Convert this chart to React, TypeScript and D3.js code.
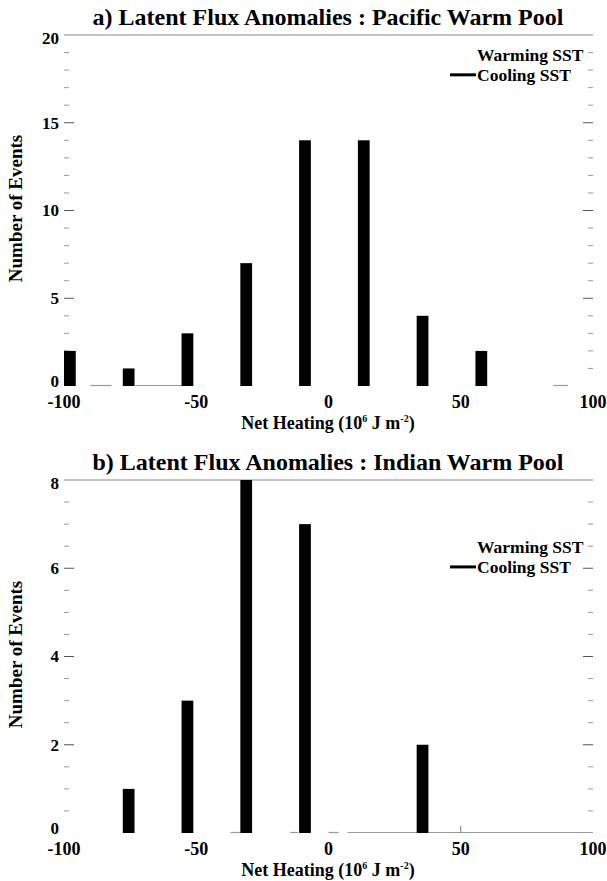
import React from "react";
import * as d3 from "d3";

// ---- data ----
const binEdgesStart = -100;
const binCount = 9;
const xTicks = [-100, -50, 0, 50, 100];

const pacificCooling = [2, 1, 3, 7, 14, 14, 4, 2, 0];
const indianCooling = [0, 1, 3, 8, 7, 0, 2, 0, 0];

const pacificYTicks = [0, 5, 10, 15, 20];
const indianYTicks = [0, 2, 4, 6, 8];

// faint baseline traces (data units) seen in the reference
const pacificTraces: [number, number][] = [[-90, -82], [-73, -55.6], [85, 90.5]];
const indianTraces: [number, number][] = [[-37, -33.5], [-14.5, -11.5], [0, 3.8], [7.2, 33.3], [37.8, 100]];

const legendLabels = ["Warming SST", "Cooling SST"];

const FONT = "'Liberation Serif', 'Times New Roman', serif";

type PanelProps = {
  title: string;
  values: number[];
  yMax: number;
  yTicks: number[];
  minorStep: number;
  traces: [number, number][];
  top: number;
  bottom: number;
  axisTick50?: boolean;
  legendRows: [number, number];
};

const x = d3.scaleLinear().domain([-100, 100]).range([64, 593]);
const binW = 200 / binCount;

function Panel(p: PanelProps) {
  const y = d3.scaleLinear().domain([0, p.yMax]).range([p.bottom, p.top]);
  const minor = d3.range(0, p.yMax + 1e-9, p.minorStep);
  const left = x(-100);
  const right = x(100);
  return (
    <g>
      <text x={328} y={p.top - 10} textAnchor="middle" fontFamily={FONT} fontWeight="bold" fontSize={24}>
        {p.title}
      </text>
      {/* top frame line */}
      <line x1={left} x2={right} y1={p.top} y2={p.top} stroke="#8a8a8a" strokeWidth={1.2} />
      {/* baseline traces */}
      {p.traces.map((t, i) => (
        <line key={"t" + i} x1={x(t[0])} x2={x(t[1])} y1={p.bottom - 0.5} y2={p.bottom - 0.5} stroke="#9a9a9a" strokeWidth={1.2} />
      ))}
      {/* ticks */}
      {minor.map((v, i) => {
        const major = p.yTicks.includes(v);
        const len = major ? 10 : 5;
        const yy = y(v);
        if (v === 0 || v === p.yMax) return null;
        return (
          <g key={"m" + i}>
            <line x1={left} x2={left + len} y1={yy} y2={yy} stroke={major ? "#555" : "#9a9a9a"} strokeWidth={1} />
            <line x1={right - len} x2={right} y1={yy} y2={yy} stroke={major ? "#555" : "#9a9a9a"} strokeWidth={1} />
          </g>
        );
      })}
      {/* y tick labels */}
      {p.yTicks.map((v) => {
        let yy = y(v);
        if (v === 0) yy -= 5;
        if (v === p.yMax) yy += 3;
        return (
          <text key={"yl" + v} x={59} y={yy} dy="0.35em" textAnchor="end" fontFamily={FONT} fontWeight="bold" fontSize={17}>
            {v}
          </text>
        );
      })}
      {/* x tick labels */}
      {xTicks.map((v) => (
        <text key={"xl" + v} x={x(v)} y={p.bottom + 22} textAnchor="middle" fontFamily={FONT} fontWeight="bold" fontSize={18}>
          {v}
        </text>
      ))}
      {p.axisTick50 && (
        <line x1={x(50)} x2={x(50)} y1={p.bottom} y2={p.bottom - 7} stroke="#777" strokeWidth={1} />
      )}
      {/* bars */}
      {p.values.map((v, i) => {
        const x0 = binEdgesStart + i * binW;
        if (v <= 0) return null;
        return (
          <rect key={"b" + i} x={x(x0)} width={x(x0 + binW / 5) - x(x0)} y={y(v)} height={y(0) - y(v)} fill="#000" />
        );
      })}
      {/* axis titles */}
      <text x={328} y={p.bottom + 43} textAnchor="middle" fontFamily={FONT} fontWeight="bold" fontSize={18}>
        Net Heating (10
        <tspan fontSize={10} dy={-7}>6</tspan>
        <tspan dy={7}> J m</tspan>
        <tspan fontSize={10} dy={-7}>-2</tspan>
        <tspan dy={7}>)</tspan>
      </text>
      <text
        transform={`translate(22,${(p.top + p.bottom) / 2 - 2}) rotate(-90)`}
        textAnchor="middle"
        fontFamily={FONT}
        fontWeight="bold"
        fontSize={19}
      >
        Number of Events
      </text>
      {/* legend */}
      <text x={477} y={y(p.legendRows[0])} dy="0.35em" fontFamily={FONT} fontWeight="bold" fontSize={17.5}>
        {legendLabels[0]}
      </text>
      <line x1={450} x2={476} y1={y(p.legendRows[1])} y2={y(p.legendRows[1])} stroke="#000" strokeWidth={3} />
      <text x={477} y={y(p.legendRows[1])} dy="0.35em" fontFamily={FONT} fontWeight="bold" fontSize={17.5}>
        {legendLabels[1]}
      </text>
    </g>
  );
}

export default function App() {
  return (
    <svg width={607} height={881} style={{ position: "absolute", left: 0, top: 0, background: "#fff" }}>
      <rect width={607} height={881} fill="#fff" />
      <Panel
        title="a) Latent Flux Anomalies : Pacific Warm Pool"
        values={pacificCooling}
        yMax={20}
        yTicks={pacificYTicks}
        minorStep={1}
        traces={pacificTraces}
        top={35}
        bottom={386}
        legendRows={[18.85, 17.73]}
      />
      <Panel
        title="b) Latent Flux Anomalies : Indian Warm Pool"
        values={indianCooling}
        yMax={8}
        yTicks={indianYTicks}
        minorStep={0.5}
        traces={indianTraces}
        top={480}
        bottom={833}
        axisTick50
        legendRows={[6.48, 6.03]}
      />
    </svg>
  );
}
